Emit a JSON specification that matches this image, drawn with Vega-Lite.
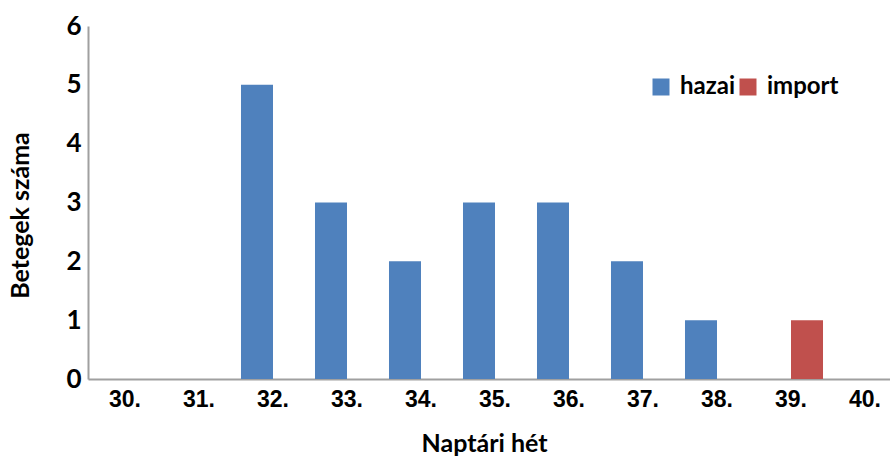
{
  "$schema": "https://vega.github.io/schema/vega-lite/v6.json",
  "autosize": "none",
  "width": 802,
  "height": 353,
  "padding": {"left": 88, "top": 26, "right": 0, "bottom": 80},
  "background": "white",
  "config": {"view": {"stroke": null}},
  "data": {"values": [
    {"het": "30.", "tipus": "hazai", "betegek": 0},
    {"het": "31.", "tipus": "hazai", "betegek": 0},
    {"het": "32.", "tipus": "hazai", "betegek": 5},
    {"het": "33.", "tipus": "hazai", "betegek": 3},
    {"het": "34.", "tipus": "hazai", "betegek": 2},
    {"het": "35.", "tipus": "hazai", "betegek": 3},
    {"het": "36.", "tipus": "hazai", "betegek": 3},
    {"het": "37.", "tipus": "hazai", "betegek": 2},
    {"het": "38.", "tipus": "hazai", "betegek": 1},
    {"het": "39.", "tipus": "import", "betegek": 1},
    {"het": "40.", "tipus": "hazai", "betegek": 0}
  ]},
  "mark": {"type": "bar"},
  "encoding": {
    "x": {
      "field": "het", "type": "nominal",
      "scale": {"domain": ["30.","31.","32.","33.","34.","35.","36.","37.","38.","39.","40."], "range": [0, 814], "paddingInner": 0.135, "paddingOuter": 0.0675},
      "axis": {
        "title": "Naptári hét",
        "labelAngle": 0,
        "labelFont": "Liberation Sans", "labelFontWeight": "bold", "labelFontSize": 23, "labelColor": "#000000",
        "labelPadding": 9,
        "ticks": false,
        "domainColor": "#a0a0a0", "domainWidth": 2,
        "titleFont": "Lato", "titleFontWeight": "bold", "titleFontSize": 25, "titleColor": "#000000",
        "titleX": 396, "titleY": 64, "titleBaseline": "middle"
      }
    },
    "xOffset": {"field": "tipus", "type": "nominal", "scale": {"domain": ["hazai", "import"], "paddingInner": 0, "paddingOuter": 0}},
    "y": {
      "field": "betegek", "type": "quantitative",
      "scale": {"domain": [0, 6], "nice": false},
      "axis": {
        "title": "Betegek száma",
        "values": [0,1,2,3,4,5,6],
        "grid": false, "ticks": false,
        "labelFont": "Lato", "labelFontWeight": "bold", "labelFontSize": 26, "labelColor": "#000000",
        "labelPadding": 7,
        "domainColor": "#a0a0a0", "domainWidth": 2,
        "titleFont": "Lato", "titleFontWeight": "bold", "titleFontSize": 25, "titleColor": "#000000",
        "titleX": -68, "titleY": 189, "titleAngle": -90, "titleBaseline": "middle", "titleAlign": "center"
      }
    },
    "color": {
      "field": "tipus", "type": "nominal",
      "scale": {"domain": ["hazai", "import"], "range": ["#4F81BD", "#C0504D"]},
      "legend": {
        "title": null, "orient": "none", "direction": "horizontal",
        "legendX": 561, "legendY": 49,
        "symbolType": "square", "symbolSize": 289, "symbolStrokeWidth": 0, "symbolOpacity": 1,
        "labelFont": "Lato", "labelFontWeight": "bold", "labelFontSize": 24, "labelColor": "#000000",
        "labelOffset": 7, "columnPadding": 0
      }
    }
  }
}
